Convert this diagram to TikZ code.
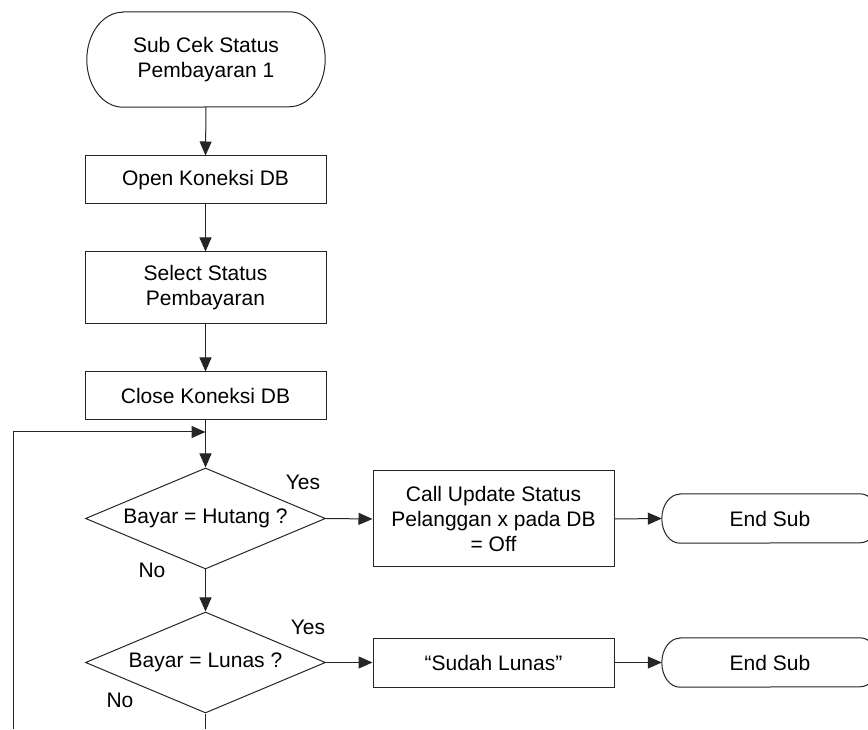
\documentclass[tikz,border=0pt]{standalone}
\usepackage{fontspec}
\setmainfont{Liberation Sans}
\usetikzlibrary{arrows.meta,shapes.geometric}

% outline of a terminator: straight top/bottom with elliptic ends
% #1 node name, #2 horizontal radius, #3 vertical radius
\newcommand\termoutline[3]{%
  \draw[line] ([xshift=#2]#1.north west) -- ([xshift=-#2]#1.north east)
    arc[start angle=90, end angle=-90, x radius=#2, y radius=#3]
    -- ([xshift=#2]#1.south west)
    arc[start angle=270, end angle=90, x radius=#2, y radius=#3] -- cycle;}

\begin{document}
\begin{tikzpicture}[x=1pt, y=1pt,
  font=\fontsize{21}{25}\selectfont,
  line/.style={draw=black!85, line width=1pt},
  flow/.style={line, -{Triangle[length=14pt,width=12pt]}},
  procbox/.style={line, rectangle, minimum width=241pt, inner sep=0pt, align=center},
  termbox/.style={rectangle, inner sep=0pt, align=center},
  decision/.style={line, diamond, aspect=2.4, minimum width=240pt, minimum height=101pt, inner sep=0pt},
  lbl/.style={inner sep=0pt}]
\useasboundingbox (0,0) rectangle (868,729);
\fill[white] (0,0) rectangle (868,729);

% main column
\node[termbox, minimum width=238pt, minimum height=95pt] (start) at (206,669.5) {Sub Cek Status\\Pembayaran 1};
\termoutline{start}{36pt}{47.5pt}
\node[procbox, minimum height=48pt] (open) at (205.5,549) {Open Koneksi DB};
\node[procbox, minimum height=72pt] (select) at (205.5,441) {Select Status\\Pembayaran};
\node[procbox, minimum height=48pt] (close) at (205.5,333) {Close Koneksi DB};
\node[decision] (hutang) at (205.5,210.5) {Bayar = Hutang ?};
\node[decision] (lunas) at (205.5,66.5) {Bayar = Lunas ?};

% right-hand branches
\node[procbox, minimum height=96pt] (update) at (493.5,210) {Call Update Status\\Pelanggan x pada DB\\= Off};
\node[termbox, minimum width=216pt, minimum height=49pt] (end1) at (770,210.5) {End Sub};
\termoutline{end1}{18pt}{24.5pt}
\node[procbox, minimum height=49pt] (sudah) at (493.5,66.5) {“Sudah Lunas”};
\node[termbox, minimum width=216pt, minimum height=49pt] (end2) at (770,66.5) {End Sub};
\termoutline{end2}{18pt}{24.5pt}

% branch labels
\node[lbl] (yes1) at (303,247) {Yes};
\node[lbl] (no1) at (152,159) {No};
\node[lbl] (yes2) at (308,102) {Yes};
\node[lbl] (no2) at (120,29) {No};

% loop-back and continuation points
\coordinate (loopin) at (205.5,297);
\coordinate (loopfoot) at (13,0);
\coordinate (downout) at (205.5,0);

% connectors
\draw[flow] (start.south) -- (open.north);
\draw[flow] (open.south) -- (select.north);
\draw[flow] (select.south) -- (close.north);
\draw[flow] (close.south) -- (hutang.north);
\draw[flow] (loopfoot) |- (loopin);
\draw[flow] (hutang.east) -- (update.west);
\draw[flow] (update.east) -- (end1.west);
\draw[flow] (hutang.south) -- (lunas.north);
\draw[flow] (lunas.east) -- (sudah.west);
\draw[flow] (sudah.east) -- (end2.west);
\draw[line] (lunas.south) -- (downout);
\end{tikzpicture}
\end{document}
